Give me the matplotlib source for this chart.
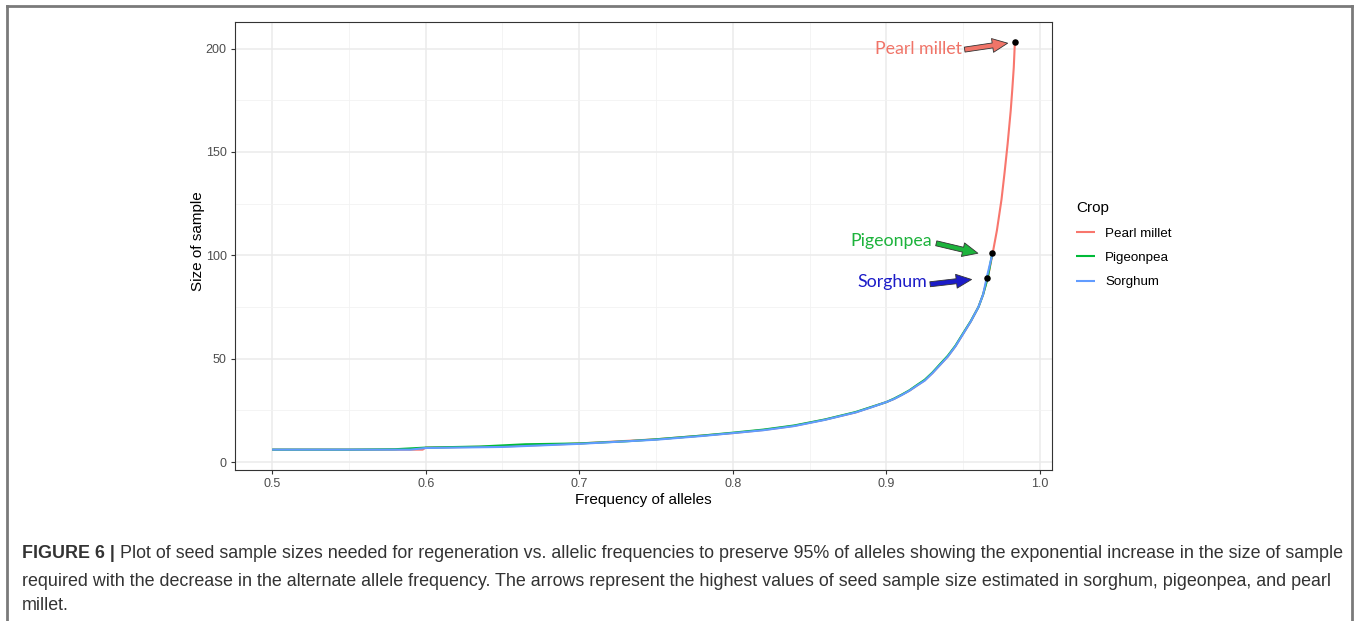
import matplotlib
matplotlib.use("Agg")
import matplotlib.pyplot as plt
from matplotlib.patches import FancyArrowPatch
from matplotlib.lines import Line2D

# ---- data ----
crops = ["Pearl millet", "Pigeonpea", "Sorghum"]
colors = ["#F8766D", "#00BA38", "#619CFF"]

pm_freq = [0.500, 0.550, 0.598, 0.600, 0.650, 0.685, 0.700, 0.720, 0.750, 0.780, 0.800,
           0.820, 0.840, 0.860, 0.880, 0.890, 0.900, 0.905, 0.910, 0.915, 0.920, 0.925,
           0.930, 0.935, 0.940, 0.945, 0.950, 0.955, 0.960, 0.963, 0.966, 0.969,
           0.972, 0.975, 0.977, 0.979, 0.981, 0.982, 0.983, 0.9837]
pm_size = [6, 6, 6, 7, 7.5, 8.5, 9, 9.8, 11, 12.8, 14,
           15.5, 17.5, 20.5, 24, 26.5, 29, 30.5, 32.5, 34.5, 37, 39.5,
           43, 47, 51, 56, 62, 68, 75, 81, 89, 100,
           112, 127, 140, 154, 170, 180, 191, 203]

pp_freq = [0.500, 0.550, 0.580, 0.600, 0.635, 0.665, 0.700, 0.730, 0.750, 0.780, 0.800,
           0.820, 0.840, 0.860, 0.880, 0.890, 0.900, 0.905, 0.910, 0.915, 0.920, 0.925,
           0.930, 0.935, 0.940, 0.945, 0.950, 0.955, 0.960, 0.963, 0.966, 0.969]
pp_size = [6, 6, 6.2, 7, 7.5, 8.6, 9, 10, 11, 12.8, 14.2,
           15.7, 17.7, 20.6, 24.2, 26.6, 29, 30.7, 32.6, 34.7, 37.3, 39.8,
           43.3, 47.4, 51.4, 56.3, 62.3, 68.2, 75, 81, 89, 101]

so_freq = [0.500, 0.550, 0.590, 0.600, 0.650, 0.700, 0.750, 0.780, 0.800,
           0.820, 0.840, 0.860, 0.880, 0.890, 0.900, 0.905, 0.910, 0.915, 0.920, 0.925,
           0.930, 0.935, 0.940, 0.945, 0.950, 0.955, 0.960, 0.963, 0.9653, 0.969]
so_size = [6, 6, 6, 6.8, 7.3, 8.8, 10.8, 12.6, 14,
           15.4, 17.4, 20.4, 24, 26.4, 29, 30.5, 32.4, 34.5, 37, 39.4,
           43, 47, 51, 56, 62, 68, 75, 81, 89, 100.5]

series_freq = [pm_freq, pp_freq, so_freq]
series_size = [pm_size, pp_size, so_size]

# highlighted maxima (black dots)
max_freq = [0.9837, 0.969, 0.9653]
max_size = [203, 101, 89]

annot_text = ["Pearl millet", "Pigeonpea", "Sorghum"]
annot_color = ["#F07468", "#1DB33C", "#1C1CC8"]
annot_text_xy = [(0.949, 200.0), (0.930, 106.8), (0.9265, 87.0)]
annot_tail_xy = [(0.951, 199.5), (0.9325, 105.8), (0.9285, 86.0)]
annot_tip_xy = [(0.979, 202.6), (0.9596, 101.0), (0.9555, 88.3)]

x_ticks = [0.5, 0.6, 0.7, 0.8, 0.9, 1.0]
x_ticklabels = ["0.5", "0.6", "0.7", "0.8", "0.9", "1.0"]
y_ticks = [0, 50, 100, 150, 200]

caption_bold = "FIGURE 6 |"
caption_lines = [
    " Plot of seed sample sizes needed for regeneration vs. allelic frequencies to preserve 95% of alleles showing the exponential increase in the size of sample",
    "required with the decrease in the alternate allele frequency. The arrows represent the highest values of seed sample size estimated in sorghum, pigeonpea, and pearl",
    "millet.",
]

# ---- figure ----
W, H = 1358, 621
fig = plt.figure(figsize=(W / 100, H / 100), dpi=100)
plt.rcParams["font.family"] = ["Liberation Sans", "DejaVu Sans"]

def fx(px):
    return px / W

def fy(py):
    return 1 - py / H

ax = fig.add_axes([fx(235), fy(470), fx(1052) - fx(235), fy(22) - fy(470)])

for f, s, c, name in zip(series_freq, series_size, colors, crops):
    ax.plot(f, s, color=c, lw=1.5, label=name, solid_capstyle="butt", zorder=3)

ax.scatter(max_freq, max_size, s=22, color="black", zorder=5, linewidths=0)

xmin, xmax = 0.5, max(pm_freq)
ymin, ymax = min(pm_size), max(pm_size)
ax.set_xlim(xmin - 0.05 * (xmax - xmin), xmax + 0.05 * (xmax - xmin))
ax.set_ylim(ymin - 0.05 * (ymax - ymin), ymax + 0.05 * (ymax - ymin))

ax.set_xticks(x_ticks)
ax.set_xticklabels(x_ticklabels)
ax.set_yticks(y_ticks)
ax.set_xticks([0.55, 0.65, 0.75, 0.85, 0.95], minor=True)
ax.set_yticks([25, 75, 125, 175], minor=True)
ax.grid(True, which="major", color="#EBEBEB", lw=1.1, zorder=0)
ax.grid(True, which="minor", color="#F2F2F2", lw=0.6, zorder=0)
ax.set_axisbelow(True)
ax.tick_params(which="major", length=3, width=0.8, color="#333333",
               labelsize=9, labelcolor="#4D4D4D", pad=3)
ax.tick_params(which="minor", length=0)
for sp in ax.spines.values():
    sp.set_color("#333333")
    sp.set_linewidth(0.8)

ax.set_xlabel("Frequency of alleles", fontsize=11, color="black", labelpad=2)
ax.set_ylabel("Size of sample", fontsize=11, color="black")
ax.yaxis.set_label_coords(-0.037, 0.511)

# legend
leg = ax.legend(title="Crop", loc="upper left", bbox_to_anchor=(fx(1076), fy(201)),
                bbox_transform=fig.transFigure, frameon=False, fontsize=9.6,
                title_fontsize=11, handlelength=1.45, handletextpad=0.75,
                labelspacing=0.9, borderaxespad=0, borderpad=0)
leg._legend_box.align = "left"
leg._legend_box.sep = 9

# annotations (arrows)
ann_font = ["Lato", "DejaVu Sans"]
for txt, col, txy, tail, tip in zip(annot_text, annot_color, annot_text_xy,
                                    annot_tail_xy, annot_tip_xy):
    ax.text(txy[0], txy[1], txt, color=col, fontsize=12.8, family=ann_font,
            ha="right", va="center", zorder=6)
    ax.add_patch(FancyArrowPatch(tail, tip,
                                 arrowstyle="simple,head_length=11,head_width=10,tail_width=3.6",
                                 mutation_scale=1, facecolor=col, edgecolor="#333333",
                                 lw=0.6, zorder=6, shrinkA=0, shrinkB=0))

# outer border
fig.add_artist(Line2D([fx(7), fx(7)], [0, fy(6)], color="#7A7A7A", lw=2))
fig.add_artist(Line2D([fx(7), fx(1352)], [fy(6), fy(6)], color="#7A7A7A", lw=2))
fig.add_artist(Line2D([fx(1352), fx(1352)], [0, fy(6)], color="#7A7A7A", lw=2))

# caption
cap_kw = dict(fontsize=12.85, color="#333333", va="baseline", ha="left")
tb = fig.text(fx(22), fy(558), caption_bold, fontweight="bold", **cap_kw)
fig.canvas.draw()
bb = tb.get_window_extent(renderer=fig.canvas.get_renderer())
fig.text(bb.x1 / W, fy(558), caption_lines[0], **cap_kw)
fig.text(fx(22), fy(586), caption_lines[1], **cap_kw)
fig.text(fx(22), fy(610), caption_lines[2], **cap_kw)

fig.savefig("out.png", dpi=100)
